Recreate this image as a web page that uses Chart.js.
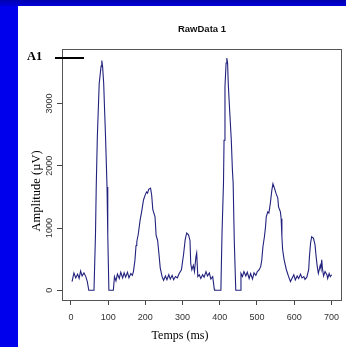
<!DOCTYPE html>
<html>
<head>
<meta charset="utf-8">
<script src="https://cdn.jsdelivr.net/npm/chart.js@4/dist/chart.umd.min.js"></script>
<style>
  html, body { margin: 0; padding: 0; }
  body { width: 346px; height: 347px; background: #0000ec; position: relative; overflow: hidden; }
  #topband { position: absolute; left: 0; top: 0; width: 346px; height: 6px; background: linear-gradient(#0000b0, #0000d8); }
  #panel { position: absolute; left: 18px; top: 6px; width: 328px; height: 341px; background: #fff; }
  #wrap { position: absolute; left: 0; top: 0; width: 346px; height: 347px; }
  .lbl { position: absolute; white-space: nowrap; color: #000; }
  #title { left: 0; width: 404px; top: 23px; text-align: center; font: bold 9.5px "Liberation Sans", Arial, sans-serif; color: #111; }
  #a1 { left: 27px; top: 49px; font: bold 12.5px "Liberation Serif", "Times New Roman", serif; }
  #a1line { position: absolute; left: 55px; top: 57px; width: 29px; height: 2px; background: #000; }
  #xtitle { left: 140px; width: 80px; top: 328px; text-align: center; font: 12px "Liberation Serif", "Times New Roman", serif; }
  #ytitle { left: 36px; top: 191px; transform: translate(-50%, -50%) rotate(-90deg); font: 12.5px "Liberation Serif", "Times New Roman", serif; }
</style>
</head>
<body>
<div id="topband"></div>
<div id="panel"></div>
<div id="wrap"><canvas id="c" width="346" height="347"></canvas></div>
<div class="lbl" id="title">RawData 1</div>
<div class="lbl" id="a1">A1</div>
<div id="a1line"></div>
<div class="lbl" id="xtitle">Temps (ms)</div>
<div class="lbl" id="ytitle">Amplitude (µV)</div>
<script>
// Time in ms
const times = [3,8,13,18,22,26,30,35,40,44,48,62,66,68,71,76,81,83,85,88,90.5,93,97,99,102,114,117,121,125,130,134,139,143,147,152,156,161,165,168,172,175,177,181,186,190,195,199,203,206,209,214,217,220,226,229,233,236,240,245,249,254,258,263,267,272,276,281,286,291,297,303,307,311,316,320,322,325,329,332,336,338,341,345,349,354,358,363,367,372,376,381,385,386,403,406,410,411.5,414,417,419,421,423,426.5,431,434,436,439,443,455,457,461,465,470,474,479,483,488,492,497,501,506,510,513,516,520,523,525,529,532,536,540,543,547,551,556,558,563,565,567,569,573,579,585,590,594,599,603,608,612,617,621,626,629,634,639,641,644,647,652,656,659,662,665,670,672,674,676,679,683,688,690,694,697,701];
// Amplitude in µV
const amplitudes = [140,280,200,260,190,310,230,280,220,140,0,0,900,1660,2470,3320,3600,3690,3600,3330,2890,2470,1660,900,0,0,220,150,260,190,290,200,280,210,290,200,270,240,300,480,720,780,900,1130,1260,1450,1520,1580,1560,1620,1640,1530,1300,1180,880,800,620,360,220,160,230,170,250,180,240,170,220,200,270,330,590,810,920,890,800,430,330,400,300,540,600,220,250,190,250,210,300,230,280,180,220,30,0,0,900,1720,2410,3270,3650,3730,3650,3300,2900,2410,1930,1720,800,0,0,270,220,300,230,290,190,270,180,280,240,300,330,380,490,700,860,1020,1180,1260,1240,1400,1610,1710,1640,1560,1480,1340,1260,1150,860,650,490,330,220,140,190,250,165,230,190,260,200,220,175,210,330,540,755,860,835,730,540,380,270,400,350,490,350,230,300,250,190,270,220,250];
const xTickValues = [0,100,200,300,400,500,600,700];
const yTickValues = [0,1000,2000,3000];

const points = times.map((t, i) => ({ x: t, y: amplitudes[i] }));

const boxPlugin = {
  id: 'box',
  afterDraw(chart) {
    const { ctx, chartArea: a } = chart;
    ctx.save();
    ctx.strokeStyle = '#555';
    ctx.lineWidth = 1;
    ctx.strokeRect(Math.round(a.left) + 0.5, Math.round(a.top) + 0.5, Math.round(a.right - a.left), Math.round(a.bottom - a.top));
    ctx.restore();
  }
};

const tickFont = { family: '"Liberation Sans", Arial, sans-serif', size: 9 };

new Chart(document.getElementById('c'), {
  type: 'line',
  data: {
    datasets: [{
      data: points,
      borderColor: '#22227e',
      borderWidth: 1.1,
      pointRadius: 0,
      tension: 0,
      fill: false
    }]
  },
  options: {
    responsive: false,
    animation: false,
    events: [],
    parsing: true,
    layout: { padding: { left: 30, right: 3, top: 49, bottom: 25 } },
    plugins: { legend: { display: false }, title: { display: false }, tooltip: { enabled: false } },
    scales: {
      x: {
        type: 'linear',
        min: -24, max: 726,
        afterBuildTicks: s => { s.ticks = xTickValues.map(v => ({ value: v })); },
        afterFit: s => { s.height = 22; },
        border: { display: false },
        grid: { drawOnChartArea: false, drawTicks: true, tickLength: 5, color: '#444', lineWidth: 1 },
        ticks: { font: tickFont, color: '#333', padding: 7, maxRotation: 0, minRotation: 0, callback: v => String(v) }
      },
      y: {
        type: 'linear',
        min: -156, max: 3875,
        afterBuildTicks: s => { s.ticks = yTickValues.map(v => ({ value: v })); },
        afterFit: s => { s.width = 32; },
        border: { display: false },
        grid: { drawOnChartArea: false, drawTicks: true, tickLength: 5, color: '#444', lineWidth: 1 },
        ticks: { font: tickFont, color: '#333', padding: -3, minRotation: 90, maxRotation: 90, crossAlign: 'center', callback: v => String(v) }
      }
    }
  },
  plugins: [boxPlugin]
});
</script>
</body>
</html>
